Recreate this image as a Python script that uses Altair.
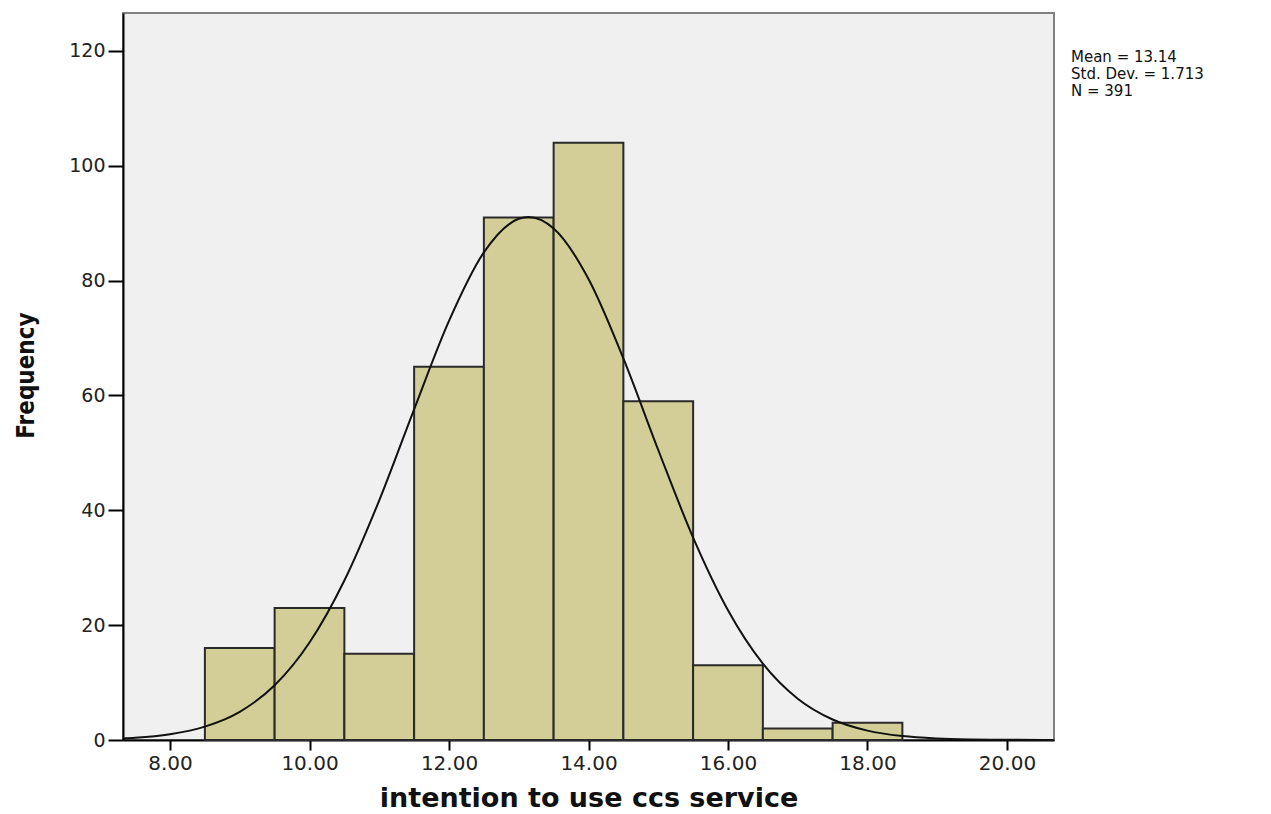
import altair as alt
import pandas as pd

# Histogram bins (intention to use ccs service)
bin_start = [8.5, 9.5, 10.5, 11.5, 12.5, 13.5, 14.5, 15.5, 16.5, 17.5]
bin_end = [9.5, 10.5, 11.5, 12.5, 13.5, 14.5, 15.5, 16.5, 17.5, 18.5]
counts = [16, 23, 15, 65, 91, 104, 59, 13, 2, 3]

# Normal curve
curve_x = [7.33, 7.5, 8.0, 8.5, 9.0, 9.5, 10.0, 10.5, 11.0, 11.5, 12.0, 12.5,
           13.0, 13.14, 13.5, 14.0, 14.5, 15.0, 15.5, 16.0, 16.5, 17.0, 17.5,
           18.0, 18.5, 19.0, 19.5, 20.0, 20.67]
curve_y = [0.29, 0.40, 1.01, 2.33, 4.91, 9.52, 16.97, 27.77, 41.74, 57.59, 72.98, 84.92,
           90.76, 91.06, 89.07, 80.28, 66.45, 50.50, 35.25, 22.60, 13.30, 7.19, 3.57,
           1.63, 0.68, 0.26, 0.09, 0.03, 0.0]

x_ticks = [8, 10, 12, 14, 16, 18, 20]
y_ticks = [0, 20, 40, 60, 80, 100, 120]
stats_lines = ["Mean = 13.14", "Std. Dev. = 1.713", "N = 391"]

bars = pd.DataFrame({"start": bin_start, "end": bin_end, "count": counts})
curve = pd.DataFrame({"x": curve_x, "y": curve_y})

xscale = alt.Scale(domain=[7.326, 20.674], nice=False, zero=False)
yscale = alt.Scale(domain=[0, 126.6], nice=False)

xaxis = alt.Axis(
    values=x_ticks, format=".2f", title="intention to use ccs service",
    grid=False, domainColor="#000000", domainWidth=2, tickColor="#000000",
    tickWidth=2, tickSize=10, labelFont="DejaVu Sans", labelFontSize=20,
    labelColor="#222222", labelPadding=3,
    titleFont="DejaVu Sans", titleFontWeight="bold", titleFontSize=27,
    titleColor="#111111", titleY=66, titleBaseline="alphabetic",
)
yaxis = alt.Axis(
    values=y_ticks, title="Frequency", grid=False, domainColor="#000000",
    domainWidth=2, tickColor="#000000", tickWidth=2, tickSize=15,
    labelFont="DejaVu Sans", labelFontSize=19, labelColor="#222222",
    labelPadding=3,
    titleFont="DejaVu Sans Condensed, DejaVu Sans, sans-serif",
    titleFontWeight="bold", titleFontSize=24, titleColor="#111111",
    titleX=-97, titleY=362, titleAngle=270, titleAlign="center",
    titleBaseline="middle",
)

bar_layer = alt.Chart(bars).mark_rect(
    color="#D3CE97", stroke="#2a2a2a", strokeWidth=2
).encode(
    x=alt.X("start:Q", scale=xscale, axis=xaxis),
    x2="end:Q",
    y=alt.Y("count:Q", scale=yscale, axis=yaxis),
    y2=alt.datum(0),
)

line_layer = alt.Chart(curve).mark_line(
    color="#111111", strokeWidth=2, interpolate="monotone"
).encode(
    x=alt.X("x:Q", scale=xscale),
    y=alt.Y("y:Q", scale=yscale),
)

text_layer = alt.Chart(pd.DataFrame({"t": [0]})).mark_text(
    align="left", baseline="alphabetic", font="DejaVu Sans", fontSize=15,
    color="#111111", lineHeight=17, clip=False
).encode(
    x=alt.value(948), y=alt.value(49), text=alt.value(stats_lines)
)

chart = alt.layer(bar_layer, line_layer, text_layer).properties(
    width=931, height=727,
    autosize=alt.AutoSizeParams(type="none"),
    padding={"left": 115, "top": 5, "right": 200, "bottom": 72},
).configure_view(
    fill="#F0F0F0", stroke="#808080", strokeWidth=2
)

chart.save("out.html", embed_options={"renderer": "svg", "actions": False})
